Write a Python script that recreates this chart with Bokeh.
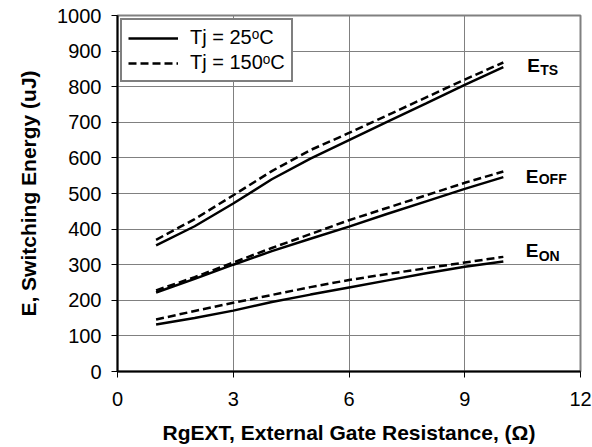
from bokeh.plotting import figure
from bokeh.models import Legend, LegendItem, Label, Range1d, FixedTicker
from bokeh.embed import file_html
from bokeh.resources import INLINE

# ---- data ----
rg = [1, 2, 3, 4, 5, 6, 7, 8, 9, 10]
ets_25 = [354, 408, 472, 540, 598, 650, 702, 753, 805, 855]
ets_150 = [370, 428, 495, 563, 622, 670, 720, 770, 820, 868]
eoff_25 = [222, 260, 300, 338, 373, 407, 443, 478, 513, 546]
eoff_150 = [228, 265, 306, 347, 386, 425, 460, 495, 530, 562]
eon_25 = [132, 150, 171, 195, 216, 236, 256, 276, 294, 309]
eon_150 = [146, 170, 193, 215, 237, 257, 274, 290, 306, 322]

x_ticks = [0, 3, 6, 9, 12]
y_ticks = [0, 100, 200, 300, 400, 500, 600, 700, 800, 900, 1000]
legend_labels = ["Tj = 25\u1d52C", "Tj = 150\u1d52C"]
curve_names = ["E", "E", "E"]
curve_subs = ["TS", "OFF", "ON"]
x_title = "RgEXT, External Gate Resistance, (\u03a9)"
y_title = "E, Switching Energy (uJ)"

FONT = "Liberation Sans"

p = figure(width=592, height=447, output_backend="svg", toolbar_location=None,
           x_range=Range1d(0, 12), y_range=Range1d(0, 1000),
           min_border_left=117, min_border_right=12, min_border_top=15,
           min_border_bottom=76)

p.outline_line_color = "#808080"
p.outline_line_width = 2

for ax in (p.xaxis[0], p.yaxis[0]):
    ax.axis_line_color = "black"
    ax.axis_line_width = 2
    ax.major_tick_line_color = "black"
    ax.major_tick_line_width = 1
    ax.major_tick_in = 0
    ax.major_tick_out = 6
    ax.minor_tick_line_color = None
    ax.major_label_text_font = FONT
    ax.major_label_text_font_size = "20px"
    ax.major_label_text_color = "black"
    ax.axis_label_text_font = FONT
    ax.axis_label_text_font_size = "21px"
    ax.axis_label_text_font_style = "bold"
    ax.axis_label_text_color = "black"

p.xaxis.ticker = FixedTicker(ticks=x_ticks)
p.yaxis.ticker = FixedTicker(ticks=y_ticks)
p.xaxis.axis_label = x_title
p.yaxis.axis_label = y_title
p.xaxis.major_label_standoff = 14
p.yaxis.major_label_standoff = 10
p.xaxis.axis_label_standoff = 12
p.yaxis.axis_label_standoff = 14
p.xaxis.axis_label_text_line_height = 1.0

p.xgrid.ticker = FixedTicker(ticks=x_ticks)
p.ygrid.ticker = FixedTicker(ticks=y_ticks)
for g in (p.xgrid[0], p.ygrid[0]):
    g.grid_line_color = "#808080"
    g.grid_line_width = 1

LW = 2.5
DASH = "8 4"
r_solid = p.line(rg, ets_25, line_color="black", line_width=LW)
r_dash = p.line(rg, ets_150, line_color="black", line_width=LW, line_dash=DASH)
p.line(rg, eoff_25, line_color="black", line_width=LW)
p.line(rg, eoff_150, line_color="black", line_width=LW, line_dash=DASH)
p.line(rg, eon_25, line_color="black", line_width=LW)
p.line(rg, eon_150, line_color="black", line_width=LW, line_dash=DASH)

# curve labels (E with subscript)
label_pos = [(10.62, 842, 831), (10.58, 531, 524), (10.58, 323, 307)]
for name, sub, (lx, ly, sy) in zip(curve_names, curve_subs, label_pos):
    p.add_layout(Label(x=lx, y=ly, y_offset=6, text=name, text_font=FONT,
                       text_font_size="19px", text_font_style="bold",
                       text_color="black", text_align="left",
                       text_baseline="alphabetic"))
    p.add_layout(Label(x=lx, y=sy, x_offset=13, y_offset=6, text=sub,
                       text_font=FONT, text_font_size="14px",
                       text_font_style="bold", text_color="black",
                       text_align="left", text_baseline="alphabetic"))

legend = Legend(items=[LegendItem(label=legend_labels[0], renderers=[r_solid]),
                       LegendItem(label=legend_labels[1], renderers=[r_dash])],
                location="top_left")
legend.margin = 3
legend.padding = 6
legend.spacing = 2
legend.glyph_width = 50
legend.label_standoff = 12
legend.label_text_font = FONT
legend.label_text_font_size = "20px"
legend.label_text_color = "black"
legend.border_line_color = "black"
legend.border_line_width = 2
legend.background_fill_color = "white"
legend.background_fill_alpha = 1
p.add_layout(legend)

open("out.html", "w").write(file_html(p, INLINE))
